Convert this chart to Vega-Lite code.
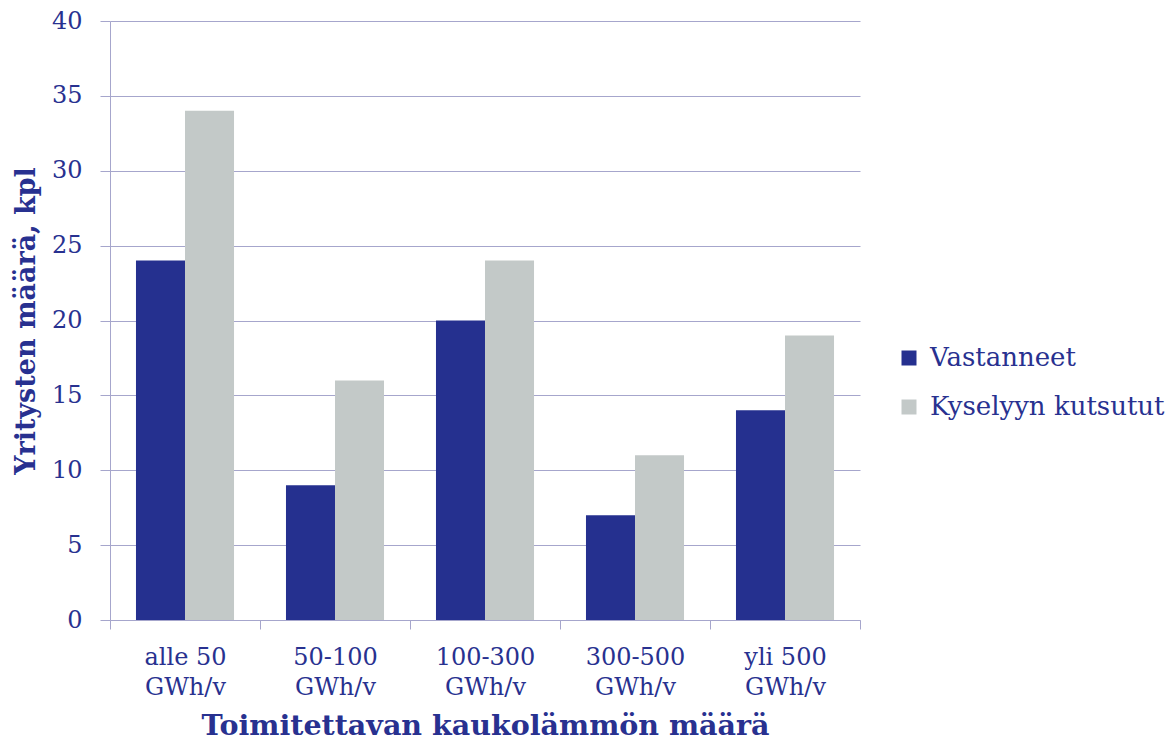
{
  "$schema": "https://vega.github.io/schema/vega-lite/v6.json",
  "width": 750,
  "height": 599,
  "autosize": {"type": "none"},
  "padding": {"left": 110, "top": 21, "right": 311, "bottom": 120},
  "background": "white",
  "data": {
    "values": [
      {"luokka": "alle 50 GWh/v", "sarja": "Vastanneet", "maara": 24},
      {"luokka": "alle 50 GWh/v", "sarja": "Kyselyyn kutsutut", "maara": 34},
      {"luokka": "50-100 GWh/v", "sarja": "Vastanneet", "maara": 9},
      {"luokka": "50-100 GWh/v", "sarja": "Kyselyyn kutsutut", "maara": 16},
      {"luokka": "100-300 GWh/v", "sarja": "Vastanneet", "maara": 20},
      {"luokka": "100-300 GWh/v", "sarja": "Kyselyyn kutsutut", "maara": 24},
      {"luokka": "300-500 GWh/v", "sarja": "Vastanneet", "maara": 7},
      {"luokka": "300-500 GWh/v", "sarja": "Kyselyyn kutsutut", "maara": 11},
      {"luokka": "yli 500 GWh/v", "sarja": "Vastanneet", "maara": 14},
      {"luokka": "yli 500 GWh/v", "sarja": "Kyselyyn kutsutut", "maara": 19}
    ]
  },
  "mark": {"type": "bar"},
  "encoding": {
    "x": {
      "field": "luokka",
      "type": "nominal",
      "sort": null,
      "scale": {"paddingInner": 0, "paddingOuter": 0},
      "axis": {
        "title": "Toimitettavan kaukolämmön määrä",
        "titleFont": "DejaVu Serif",
        "titleFontSize": 28.5,
        "titleFontWeight": "bold",
        "titleColor": "#283190",
        "titleY": 105,
        "titleBaseline": "middle",
        "labelAngle": 0,
        "labelFont": "DejaVu Serif",
        "labelFontSize": 24,
        "labelColor": "#283190",
        "labelLineHeight": 30,
        "labelPadding": 16,
        "labelExpr": "datum.label ? [replace(datum.label, ' GWh/v', ''), 'GWh/v'] : ''",
        "domainColor": "#a6a6cc",
        "tickColor": "#a6a6cc",
        "tickSize": 9,
        "tickBand": "extent",
        "grid": false
      }
    },
    "xOffset": {
      "field": "sarja",
      "type": "nominal",
      "sort": ["Vastanneet", "Kyselyyn kutsutut"],
      "scale": {"paddingInner": 0, "paddingOuter": 0.53}
    },
    "y": {
      "field": "maara",
      "type": "quantitative",
      "scale": {"domain": [0, 40]},
      "axis": {
        "title": "Yritysten määrä, kpl",
        "titleFont": "DejaVu Serif",
        "titleFontSize": 27,
        "titleFontWeight": "bold",
        "titleColor": "#283190",
        "titleX": -84,
        "titleBaseline": "middle",
        "values": [0, 5, 10, 15, 20, 25, 30, 35, 40],
        "labelFont": "DejaVu Serif",
        "labelFontSize": 24,
        "labelColor": "#283190",
        "labelPadding": 18,
        "domainColor": "#a6a6cc",
        "tickColor": "#a6a6cc",
        "tickSize": 10,
        "gridColor": "#a6a6cc",
        "gridWidth": 1
      }
    },
    "color": {
      "field": "sarja",
      "type": "nominal",
      "sort": ["Vastanneet", "Kyselyyn kutsutut"],
      "scale": {"domain": ["Vastanneet", "Kyselyyn kutsutut"], "range": ["#25308f", "#c3c9c8"]},
      "legend": {
        "title": null,
        "orient": "none",
        "legendX": 786,
        "legendY": 324,
        "symbolType": "square",
        "symbolSize": 225,
        "symbolStrokeWidth": 0,
        "labelFont": "DejaVu Serif",
        "labelFontSize": 26,
        "labelColor": "#283190",
        "labelLimit": 0,
        "rowPadding": 23,
        "labelOffset": 8
      }
    }
  },
  "config": {"view": {"stroke": null}}
}
